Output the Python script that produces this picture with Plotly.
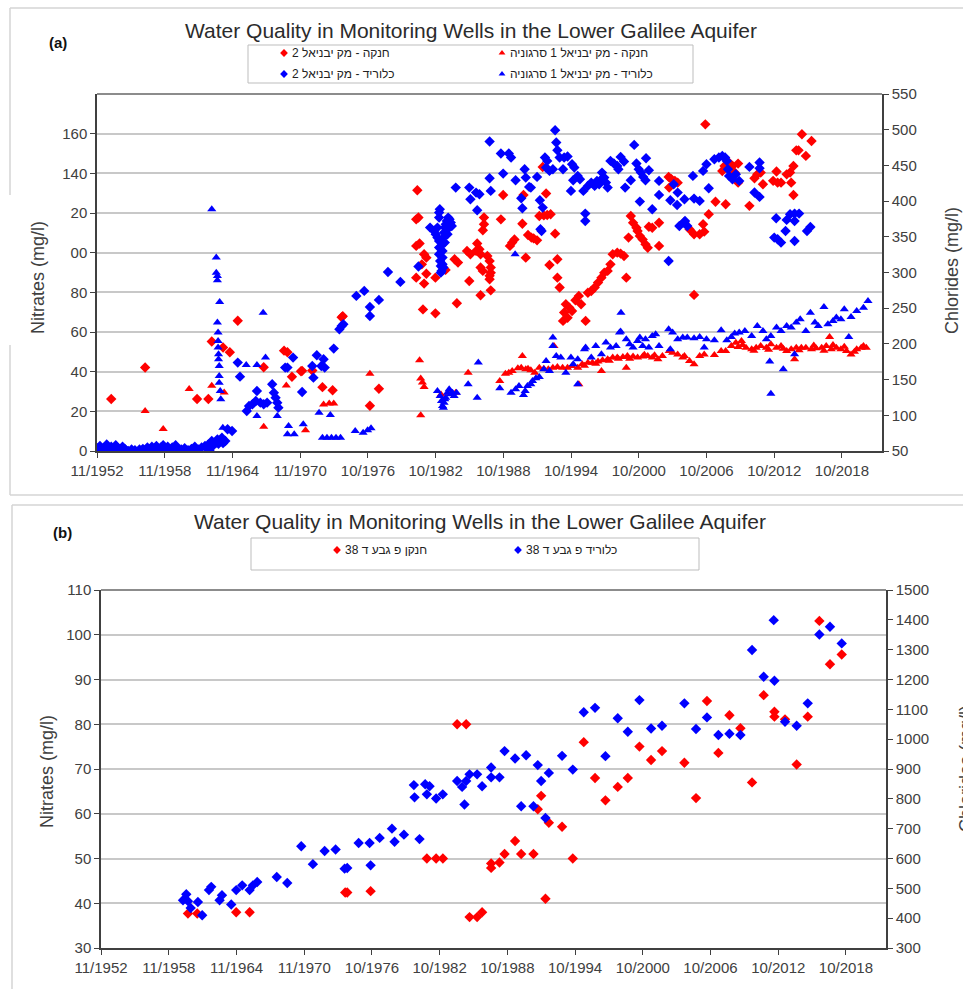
import plotly.graph_objects as go

W, H = 963, 989

# ---------------- Panel (a): Yavniel wells ----------------
# Nitrate, Yavniel 2 (red diamonds) - decimal year / mg/l
nit_w2_year = [1954.1, 1957.1, 1961.7, 1962.7, 1963.0, 1964.0, 1964.6, 1965.3, 1967.6, 1969.4,
               1969.7, 1970.1, 1970.9, 1971.0, 1971.9, 1972.8, 1973.7, 1974.5, 1974.6, 1977.0,
               1977.8, 1981.2, 1981.1, 1981.3, 1981.1, 1981.4, 1981.8, 1982.0, 1981.6, 1982.0,
               1982.8, 1981.1, 1981.8, 1981.7, 1982.8, 1983.7, 1984.5, 1984.8, 1984.7, 1985.8,
               1985.6, 1985.9, 1986.4, 1986.7, 1986.8, 1986.5, 1986.8, 1987.0, 1986.8, 1987.1,
               1987.1, 1987.0, 1987.6, 1987.4, 1987.6, 1987.7, 1987.7, 1987.6, 1987.7, 1988.6,
               1988.8, 1989.4, 1989.6, 1989.8, 1990.5, 1990.6, 1990.8, 1991.0, 1991.3, 1991.5,
               1991.8, 1992.0, 1992.4, 1992.7, 1993.0, 1992.6, 1992.3, 1993.4, 1992.9, 1993.6,
               1993.6, 1993.8, 1994.35, 1994.65, 1994.2, 1994.5, 1994.1, 1994.9, 1995.2, 1995.5,
               1995.7, 1996.1, 1996.3, 1996.6, 1996.9, 1997.2, 1997.5, 1997.75, 1998.05, 1998.3,
               1998.5, 1998.9, 1999.2, 1999.5, 1999.7, 1999.9, 2000.1, 2000.3, 2000.6, 2000.7,
               2000.9, 2001.15, 2001.4, 2001.6, 2001.7, 2002.0, 2002.6, 2002.6, 2003.45, 2003.7,
               2004.0, 2004.25, 2003.5, 2004.85, 2005.3, 2005.7, 2006.2, 2006.6, 2006.5, 2005.7,
               2007.0, 2007.6, 2008.5, 2006.7, 2008.2, 2008.4, 2008.8, 2009.1, 2009.6, 2009.3,
               2009.6, 2010.6, 2011.05, 2011.3, 2011.8, 2011.6, 2013.0, 2012.7, 2013.1, 2013.4,
               2013.9, 2014.2, 2014.5, 2014.3, 2014.5, 2014.75, 2014.95, 2015.25, 2016.1, 2015.6]
nit_w2 = [26.2, 42.1, 26.2, 26.2, 55.2, 52.2, 49.8, 65.7, 42.2, 50.6,
          49.8, 37.4, 40.2, 40.4, 40.6, 32.2, 30.6, 67.4, 68.0, 22.8,
          31.4, 131.5, 116.8, 117.7, 103.4, 104.6, 99.2, 97.5, 94.1, 89.4,
          87.4, 87.4, 84.4, 71.4, 69.4, 91.3, 96.7, 95.0, 74.5, 85.7,
          100.9, 99.2, 100.9, 101.7, 99.2, 104.6, 92.5, 90.8, 78.5, 117.7,
          114.3, 111.3, 88.3, 98.3, 95.8, 92.5, 89.9, 86.6, 81.0, 116.8,
          129.1, 103.4, 105.1, 106.7, 114.6, 129.1, 97.5, 108.9, 107.6, 107.2,
          106.2, 118.5, 118.8, 119.0, 119.4, 129.8, 143.2, 109.6, 93.8, 96.7,
          87.4, 82.4, 74.0, 72.3, 69.8, 67.2, 65.6, 70.6, 76.0, 78.2,
          74.0, 65.6, 79.8, 80.7, 82.4, 84.9, 87.4, 89.9, 90.8, 94.1,
          99.2, 100.0, 99.5, 98.3, 87.4, 107.6, 118.5, 115.1, 112.6, 110.9,
          108.4, 106.7, 104.2, 102.5, 113.1, 112.6, 115.1, 103.4, 138.2, 137.0,
          136.2, 135.3, 132.8, 115.5, 111.8, 109.3, 109.3, 110.6, 114.3, 78.7,
          119.4, 125.7, 124.4, 164.7, 141.2, 143.7, 145.4, 143.7, 144.9, 140.4,
          135.3, 123.6, 137.5, 139.5, 134.5, 140.4, 140.9, 136.2, 135.3, 135.3,
          139.5, 140.4, 143.7, 135.3, 129.1, 151.6, 151.6, 159.7, 156.3, 148.8]

# Nitrate, Yavniel 1 Sarguniya (red triangles)
nit_w1_year = [1957.1, 1958.7, 1961.0, 1963.0, 1964.1, 1967.6, 1969.6, 1971.3, 1972.9, 1973.4,
               1973.8, 1977.0, 1981.4, 1981.5, 1981.65, 1981.8, 1981.5, 1983.3, 1983.9, 1984.6,
               1985.7, 1988.5, 1989.0, 1989.3, 1989.6, 1990.1, 1990.4, 1990.8, 1991.0, 1991.25,
               1991.6, 1990.5, 1992.0, 1992.4, 1992.8, 1993.2, 1993.6, 1994.06, 1993.3, 1994.5,
               1994.9, 1995.4, 1995.8, 1996.0, 1996.3, 1996.7, 1997.0, 1997.2, 1997.6, 1998.05,
               1998.2, 1998.5, 1998.9, 1999.0, 1999.4, 1999.8, 2000.0, 2000.3, 2000.7, 2001.15,
               2001.3, 2001.6, 2002.0, 2002.2, 2002.5, 2002.9, 1995.5, 1997.5, 1999.7, 2003.5,
               2003.8, 2004.25, 2004.7, 2004.85, 2005.3, 2005.7, 2006.2, 2006.6, 2007.5, 2008.1,
               2008.5, 2009.0, 2009.4, 2009.6, 2009.9, 2010.0, 2010.3, 2010.8, 2011.0, 2011.2,
               2011.6, 2012.1, 2012.3, 2012.5, 2013.0, 2013.4, 2013.6, 2013.9, 2014.3, 2014.75,
               2015.0, 2015.2, 2015.6, 2016.1, 2016.3, 2016.5, 2017.0, 2017.2, 2017.4, 2017.85,
               2018.0, 2018.3, 2018.7, 2019.0, 2019.2, 2019.6, 2019.9, 2020.1, 2020.5, 2020.7,
               2020.95, 2014.6, 2017.7]
nit_w1 = [20.2, 11.1, 31.2, 32.9, 29.5, 12.2, 33.0, 10.4, 23.5, 23.9,
          23.9, 38.9, 45.7, 36.6, 34.5, 32.3, 18.0, 28.5, 29.4, 29.4,
          39.5, 35.3, 39.0, 39.5, 40.3, 41.7, 42.0, 41.2, 41.5, 40.7,
          39.5, 47.9, 42.0, 41.5, 41.2, 42.0, 42.3, 42.0, 53.0, 42.0,
          42.9, 42.0, 43.7, 43.0, 44.5, 44.5, 44.0, 45.1, 45.7, 46.2,
          45.5, 47.1, 47.1, 46.5, 47.4, 47.9, 46.5, 47.6, 47.1, 47.6,
          48.5, 47.9, 47.1, 48.3, 46.2, 47.9, 33.6, 40.3, 42.0, 50.4,
          49.6, 48.7, 47.1, 47.9, 45.4, 43.7, 47.9, 48.7, 48.4, 50.4,
          50.4, 53.0, 54.6, 52.5, 55.5, 53.4, 52.1, 51.3, 50.6, 52.1,
          53.0, 52.1, 51.0, 53.8, 52.1, 53.0, 51.6, 50.4, 51.3, 52.1,
          50.8, 52.1, 52.1, 51.3, 53.2, 51.8, 52.1, 50.5, 53.0, 51.3,
          53.4, 52.1, 51.3, 52.6, 50.4, 48.7, 50.0, 51.3, 52.1, 53.0,
          52.1, 46.2, 57.5]

# Chloride, Yavniel 2 (blue diamonds)
cl_w2_year = [1952.9, 1953.1, 1953.3, 1953.5, 1953.7, 1953.9, 1954.1, 1954.3, 1954.5, 1954.7,
              1954.9, 1955.1, 1955.3, 1955.6, 1955.9, 1956.2, 1956.6, 1956.9, 1957.1, 1957.3,
              1957.5, 1957.7, 1957.9, 1958.1, 1958.3, 1958.5, 1958.7, 1958.9, 1959.1, 1959.3,
              1959.5, 1959.8, 1960.0, 1960.3, 1960.6, 1960.9, 1961.2, 1961.5, 1961.8, 1962.1,
              1962.4, 1962.6, 1962.8, 1963.0, 1963.2, 1963.4, 1963.6, 1963.8, 1964.0, 1962.7,
              1963.0, 1963.5, 1963.9, 1964.2, 1964.4, 1964.8,
              1965.3, 1965.5, 1966.3, 1966.1, 1966.6, 1967.0, 1966.9, 1967.3, 1967.6, 1967.9,
              1968.35, 1968.5, 1968.65, 1968.8, 1968.9, 1969.5, 1969.7, 1970.2, 1971.0, 1971.9,
              1972.0, 1972.3, 1972.9, 1972.7, 1973.0, 1973.8, 1974.3, 1974.5, 1974.65, 1975.8,
              1976.5, 1977.0, 1977.0, 1977.8, 1978.6, 1979.7, 1981.3,
              1982.33, 1982.69, 1982.83, 1982.98, 1983.13, 1983.13, 1983.13, 1983.22, 1983.28, 1983.34,
              1983.43, 1983.43, 1983.43, 1983.43, 1983.51, 1983.57, 1983.63, 1983.72, 1983.81, 1983.93,
              1984.05, 1984.16, 1984.25, 1983.13, 1983.13, 1983.19, 1982.98, 1983.63, 1983.87, 1984.02,
              1983.51, 1983.28,
              1984.6, 1985.8, 1985.9, 1986.4, 1986.7, 1986.5, 1987.6, 1987.6, 1987.7, 1988.6,
              1988.8, 1989.3, 1989.5, 1989.9, 1990.4, 1990.5, 1990.7, 1990.8, 1991.1, 1991.25,
              1991.8, 1992.05, 1992.3, 1992.1, 1992.2, 1992.5, 1992.7, 1992.6, 1992.9, 1993.2,
              1993.4, 1993.5, 1993.6, 1993.8, 1994.2, 1994.5, 1994.1, 1994.8, 1994.9, 1995.1,
              1995.0, 1995.4, 1995.6, 1996.07, 1996.07, 1995.9, 1996.3, 1996.6, 1996.9, 1997.1,
              1997.3, 1997.5, 1997.75, 1997.9, 1998.05, 1997.55, 1998.3, 1998.6, 1998.9, 1999.2,
              1999.5, 1999.0, 1999.6, 2000.1, 2000.4, 2000.6, 2000.8, 2001.0, 2001.2, 2001.4,
              2001.45, 2001.7, 2000.9, 2002.0, 2002.6, 2002.6, 2003.6, 2003.45, 2003.9, 2004.25,
              2004.2, 2004.4, 2004.8, 2004.85, 2004.9, 2005.1, 2005.6, 2005.7, 2006.2, 2006.5,
              2006.8, 2007.0, 2007.5, 2007.9, 2008.2, 2008.45, 2008.6, 2008.7, 2008.8, 2009.1,
              2009.4, 2009.7, 2010.6, 2011.5, 2011.5, 2011.05, 2011.5, 2012.97, 2012.8, 2013.1,
              2013.4, 2013.9, 2014.2, 2014.6, 2015.0, 2014.6, 2013.8, 2014.6, 2015.7, 2016.0]
cl_w2 = [54, 57, 52, 55, 59, 53, 56, 52, 58, 54,
         51, 56, 53, 50, 52, 51, 52, 53, 51, 55,
         52, 56, 53, 57, 52, 55, 58, 53, 56, 51,
         55, 58, 53, 52, 54, 51, 53, 56, 52, 55,
         57, 53, 51, 56, 59, 62, 60, 64, 61, 59.3,
         64.0, 66.3, 68.7, 64.0, 80.4, 78.0,
         173.8, 154.1, 113.0, 106.0, 115.4, 134.1, 120.1, 117.7, 115.4, 117.7,
         143.4, 131.7, 124.7, 117.7, 110.7, 166.8, 166.8, 180.8, 132.7, 169.1,
         152.7, 184.0, 178.4, 169.1, 166.8, 193.4, 220.5, 225.1, 227.5, 267.2,
         274.2, 251.7, 239.1, 261.6, 300.8, 286.8, 308.3,
         362.9, 358.2, 353.6, 348.9, 344.2, 334.9, 325.5, 316.2, 309.2, 302.2,
         311.5, 320.9, 330.2, 339.5, 348.9, 355.9, 362.9, 367.6, 372.2, 376.9,
         374.6, 369.9, 365.2, 376.9, 383.9, 388.6, 362.9, 341.9, 353.6, 362.9,
         306.9, 299.8,
         418.9, 418.9, 402.6, 411.9, 409.6, 387.2, 483.4, 432.0, 414.3, 466.6,
         438.5, 466.6, 461.0, 429.2, 404.0, 390.0, 444.6, 432.9, 419.9, 418.9,
         433.9, 401.2, 390.9, 360.6, 358.2, 461.0, 456.3, 447.0, 442.3, 444.6,
         499.2, 482.0, 471.2, 461.0, 461.0, 462.4, 444.6, 414.3, 451.6, 447.0,
         429.2, 435.3, 430.6, 382.5, 372.2, 414.3, 421.3, 425.9, 421.3, 428.3,
         423.6, 430.6, 432.9, 425.9, 418.9, 439.9, 456.3, 452.6, 449.3, 461.9,
         455.4, 444.6, 418.9, 429.2, 478.7, 452.6, 444.6, 439.9, 433.9, 429.2,
         460.1, 443.2, 399.3, 388.6, 408.7, 428.3, 401.2, 316.2, 423.6, 411.9,
         394.6, 365.2, 369.9, 402.6, 372.2, 365.2, 435.3, 403.5, 400.3, 442.3,
         451.6, 418.0, 458.6, 461.0, 463.3, 461.0, 456.3, 444.6, 435.3, 430.6,
         437.6, 428.3, 447.9, 454.0, 446.0, 412.0, 405.9, 376.0, 348.9, 346.6,
         341.9, 373.7, 381.6, 382.5, 382.5, 372.2, 358.2, 344.2, 358.2, 363.8]

# Chloride, Yavniel 1 Sarguniya (blue triangles)
cl_w1_year = [1953.0, 1953.6, 1954.4, 1955.8, 1957.0, 1957.8, 1958.6, 1959.4, 1960.4, 1961.4,
              1962.6, 1963.0, 1963.4, 1963.4, 1963.5, 1963.5, 1963.7, 1963.5, 1963.56, 1963.56,
              1963.56, 1963.6, 1963.6, 1963.66, 1963.66, 1963.66, 1963.75, 1963.8, 1963.98,
              1966.05, 1967.0, 1967.55, 1967.76, 1967.0, 1968.8, 1969.8, 1969.7, 1970.3,
              1971.1, 1972.5, 1973.5, 1972.8, 1973.2, 1973.6, 1974.0, 1974.4, 1975.7, 1976.4,
              1976.8, 1977.1,
              1982.98, 1983.22, 1983.34, 1983.43, 1983.57, 1983.72, 1983.87, 1984.02, 1984.16, 1984.31,
              1984.46, 1984.67, 1983.51, 1983.63,
              1985.7, 1986.5, 1986.6, 1988.5, 1989.5, 1989.9, 1990.2, 1990.6, 1990.75, 1990.95,
              1991.25, 1991.4, 1991.7, 1992.0, 1989.86, 1992.4, 1992.6, 1992.9, 1993.2, 1993.2,
              1993.5, 1993.9, 1994.35, 1994.8, 1995.0, 1995.4, 1995.4, 1996.0, 1996.1, 1996.6,
              1997.0, 1997.5, 1997.9, 1998.3, 1998.8, 1999.1, 1999.2, 1999.7, 2000.0, 2000.3,
              2000.7, 2000.9, 2001.15, 2001.4, 2001.7, 2002.0, 2002.3, 2002.6, 1999.23, 2003.45,
              2003.8, 2004.25, 2004.7, 2003.6, 2005.1, 2005.7, 2006.2, 2006.8, 2007.5, 2008.1,
              2008.6, 2009.0, 2009.3, 2009.7, 2010.2, 2010.8, 2011.3, 2011.8, 2012.1, 2012.5,
              2013.0, 2013.4, 2013.9, 2014.3, 2014.75, 2015.1, 2015.6, 2016.0, 2016.4, 2016.7,
              2017.2, 2017.55, 2018.0, 2018.3, 2018.7, 2019.0, 2019.4, 2019.6, 2020.1, 2020.7,
              2021.1, 2012.4, 2013.6, 2012.5, 2014.6, 2006.6]
cl_w1 = [53, 51, 54, 51, 50, 52, 51, 53, 50, 51,
         50, 388.6, 320.9, 299.8, 295.2, 289.1, 258.7, 229.8, 215.8, 204.1,
         194.8, 185.4, 178.4, 169.1, 155.1, 145.7, 134.1, 122.4, 82.7,
         170.5, 170.5, 243.8, 180.8, 99.0, 99.0, 85.0, 73.4, 73.4,
         87.4, 103.7, 100.4, 68.7, 68.7, 68.7, 68.7, 68.7, 78.0, 75.7,
         79.0, 81.8,
         134.1, 127.1, 120.1, 113.0, 117.7, 124.7, 131.7, 136.4, 129.4, 131.7,
         127.1, 131.7, 110.7, 122.4,
         143.4, 124.7, 173.8, 137.8, 131.7, 136.4, 141.1, 128.5, 134.1, 141.1,
         143.4, 148.1, 151.8, 153.7, 325.5, 164.4, 176.1, 162.1, 208.8, 197.1,
         183.1, 180.8, 159.7, 180.8, 171.4, 178.4, 143.4, 192.4, 194.8, 180.8,
         197.1, 185.4, 201.8, 194.8, 197.1, 215.8, 217.2, 206.4, 199.4, 194.8,
         204.1, 208.8, 197.1, 206.4, 194.8, 211.1, 213.5, 197.1, 243.8, 220.5,
         215.8, 206.4, 208.8, 192.4, 208.8, 207.8, 209.7, 206.4, 205.0, 219.1,
         205.0, 209.7, 214.4, 215.8, 218.1, 211.1, 225.1, 218.1, 206.4, 211.1,
         222.8, 218.1, 225.1, 222.8, 229.8, 234.5, 218.1, 243.8, 229.8, 225.1,
         251.7, 227.5, 232.1, 236.8, 234.5, 248.5, 209.7, 237.7, 246.1, 250.8,
         260.2, 175.2, 164.4, 130.3, 185.4, 194.8]

# ---------------- Panel (b): Giva 38 well ----------------
nit_g38_year = [1960.54, 1961.36, 1964.81, 1966.0, 1974.46, 1974.64, 1976.71, 1981.69, 1982.51, 1983.11,
                1984.37, 1985.17, 1985.47, 1986.14, 1986.58, 1987.38, 1987.38, 1988.12, 1988.57, 1989.5,
                1990.04, 1991.13, 1991.51, 1991.81, 1992.19, 1992.49, 1993.66, 1994.61, 1995.58, 1996.58,
                1997.5, 1998.59, 1999.48, 2000.51, 2001.54, 2002.51, 2004.49, 2005.52, 2006.49, 2007.5,
                2008.48, 2009.45, 2010.48, 2011.51, 2012.46, 2012.46, 2013.4, 2014.43, 2015.41, 2016.44,
                2017.38, 2018.42]
nit_g38 = [37.7, 37.7, 38.0, 38.0, 42.4, 42.4, 42.7, 50.0, 50.0, 50.0,
           80.0, 80.0, 36.9, 36.9, 38.0, 48.9, 47.9, 49.1, 51.0, 53.9,
           51.0, 51.0, 61.0, 64.0, 41.0, 58.0, 57.1, 50.0, 76.0, 68.0,
           63.0, 66.0, 68.0, 75.0, 72.0, 74.0, 71.4, 63.5, 85.2, 73.6,
           82.0, 79.1, 67.0, 86.5, 82.8, 81.7, 81.1, 71.0, 81.7, 103.1,
           93.4, 95.6]

cl_g38_year = [1960.39, 1960.1, 1960.54, 1960.78, 1961.42, 1961.8, 1962.4, 1962.6, 1963.34, 1963.55,
               1964.37, 1964.81, 1965.34, 1966.0, 1966.29, 1966.67, 1968.4, 1969.33, 1970.57, 1971.6,
               1972.64, 1973.61, 1974.41, 1974.64, 1975.65, 1976.62, 1976.71, 1977.51, 1978.6, 1978.83,
               1979.66, 1981.04, 1980.54, 1980.6, 1981.54, 1981.93, 1981.69, 1982.51, 1983.1, 1984.37,
               1984.81, 1985.02, 1985.17, 1985.47, 1986.14, 1986.58, 1987.38, 1987.38, 1988.12, 1988.57,
               1989.5, 1990.48, 1991.51, 1991.81, 1992.49, 1990.04, 1991.13, 1992.19, 1993.66, 1994.61,
               1995.58, 1996.58, 1997.5, 1998.59, 1999.48, 2000.51, 2001.54, 2002.51, 2004.49, 2005.52,
               2006.49, 2007.5, 2008.48, 2009.45, 2010.48, 2011.51, 2012.4, 2012.46, 2013.4, 2014.43,
               2015.41, 2016.44, 2017.38, 2018.42]
cl_g38 = [480, 460, 457, 434, 454, 410, 494, 505, 460, 477,
          446, 494, 510, 494, 510, 521, 538, 518, 641, 581,
          625, 630, 566, 568, 652, 652, 577, 669, 700, 656,
          680, 665, 846, 805, 849, 842, 815, 801, 815, 860,
          840, 781, 860, 882, 882, 842, 905, 872, 872, 960,
          935, 946, 913, 860, 887, 775, 775, 736, 944, 898,
          1090, 1105, 943, 1070, 1025, 1131, 1036, 1045, 1120, 1034,
          1073, 1014, 1018, 1014, 1299, 1209, 1399, 1196, 1058, 1045,
          1120, 1351, 1377, 1321]

# ---------------- Axis ticks ----------------
x_tick_pos = [1952.84, 1958.84, 1964.84, 1970.83, 1976.83, 1982.82,
              1988.82, 1994.81, 2000.81, 2006.80, 2012.80, 2018.79]
x_tick_text = ["11/1952", "11/1958", "11/1964", "11/1970", "10/1976", "10/1982",
               "10/1988", "10/1994", "10/2000", "10/2006", "10/2012", "10/2018"]
x_range = [1952.84, 2022.34]

a_left_ticks = [0, 20, 40, 60, 80, 100, 120, 140, 160]
a_left_text = ["0", "20", "40", "60", "80", "00", "20", "140", "160"]
a_right_ticks = list(range(50, 551, 50))
b_left_ticks = list(range(30, 111, 10))
b_right_ticks = list(range(300, 1501, 100))

title_text = "Water Quality in Monitoring Wells in the Lower Galilee Aquifer"
leg_a = ["חנקה - מק יבניאל 2", "חנקה - מק יבניאל 1 סרגוניה",
         "כלוריד - מק יבניאל 2", "כלוריד - מק יבניאל 1 סרגוניה"]
leg_b = ["חנקן פ גבע ד 38", "כלוריד פ גבע ד 38"]

RED, BLUE = "#FF0000", "#0000FF"
TXT = "#404040"
FONT = "Liberation Sans, Arial, sans-serif"


def fx(p):
    return p / W


def fy(p):
    return 1 - p / H


fig = go.Figure()


def pts(x, y, color, symbol, xa, ya, size=7):
    fig.add_trace(go.Scatter(x=x, y=y, mode="markers", xaxis=xa, yaxis=ya,
                             marker=dict(color=color, symbol=symbol, size=size,
                                         line=dict(width=0)),
                             showlegend=False, hoverinfo="skip"))


# panel (a)
pts(cl_w2_year, cl_w2, BLUE, "diamond", "x", "y2", 8)
pts(cl_w1_year, cl_w1, BLUE, "triangle-up", "x", "y2", 8)
pts(nit_w2_year, nit_w2, RED, "diamond", "x", "y", 8)
pts(nit_w1_year, nit_w1, RED, "triangle-up", "x", "y", 8)
# panel (b)
pts(cl_g38_year, cl_g38, BLUE, "diamond", "x2", "y4", 8)
pts(nit_g38_year, nit_g38, RED, "diamond", "x2", "y3", 8)

# legend keys drawn on a full-page pixel overlay
key_x = [284, 502, 284, 502, 337, 518]
key_y = [53, 53, 74, 74, 550, 550]
key_c = [RED, RED, BLUE, BLUE, RED, BLUE]
key_s = ["diamond", "triangle-up", "diamond", "triangle-up", "diamond", "diamond"]
fig.add_trace(go.Scatter(x=key_x, y=key_y, mode="markers", xaxis="x3", yaxis="y5",
                         marker=dict(color=key_c, symbol=key_s, size=6, line=dict(width=0)),
                         showlegend=False, hoverinfo="skip"))

axis_common = dict(showline=True, linecolor="#404040", linewidth=1.5, ticks="outside",
                   ticklen=5, tickcolor="#404040", tickwidth=1, automargin=False,
                   tickfont=dict(family=FONT, size=15, color=TXT), zeroline=False)

ax_a = [fx(97), fx(882)]
ay_a = [fy(451), fy(94)]
ax_b = [fx(101), fx(886)]
ay_b = [fy(948), fy(590)]

fig.update_layout(
    width=W, height=H, autosize=False,
    margin=dict(l=0, r=0, t=0, b=0, pad=0),
    paper_bgcolor="white", plot_bgcolor="rgba(0,0,0,0)",
    xaxis=dict(domain=ax_a, anchor="y", range=x_range, tickmode="array",
               tickvals=x_tick_pos, ticktext=x_tick_text, showgrid=False, **axis_common),
    yaxis=dict(domain=ay_a, anchor="x", range=[0, 180], tickmode="array",
               tickvals=a_left_ticks, ticktext=a_left_text, showgrid=True,
               gridcolor="#C8C8C8", gridwidth=2, **axis_common),
    yaxis2=dict(overlaying="y", anchor="x", side="right", range=[50, 550],
                tickmode="array", tickvals=a_right_ticks, showgrid=False, **axis_common),
    xaxis2=dict(domain=ax_b, anchor="y3", range=x_range, tickmode="array",
                tickvals=x_tick_pos, ticktext=x_tick_text, showgrid=False, **axis_common),
    yaxis3=dict(domain=ay_b, anchor="x2", range=[30, 110], tickmode="array",
                tickvals=b_left_ticks, showgrid=True, gridcolor="#C8C8C8",
                gridwidth=2, **axis_common),
    yaxis4=dict(overlaying="y3", anchor="x2", side="right", range=[300, 1500],
                tickmode="array", tickvals=b_right_ticks, showgrid=False, **axis_common),
    xaxis3=dict(domain=[0, 1], anchor="y5", range=[0, W], visible=False,
                fixedrange=True, automargin=False),
    yaxis5=dict(domain=[0, 1], anchor="x3", range=[H, 0], visible=False,
                fixedrange=True, automargin=False),
)

shapes = []
# outer panel frames
frame = dict(type="line", xref="paper", yref="paper", line=dict(color="#D4D4D4", width=1.5))
shapes += [
    dict(frame, x0=fx(10), x1=fx(963), y0=fy(8), y1=fy(8)),
    dict(frame, x0=fx(10), x1=fx(963), y0=fy(495), y1=fy(495)),
    dict(frame, x0=fx(10), x1=fx(10), y0=fy(8), y1=fy(195)),
    dict(frame, x0=fx(10), x1=fx(10), y0=fy(345), y1=fy(495)),
    dict(frame, x0=fx(12), x1=fx(963), y0=fy(505), y1=fy(505)),
    dict(frame, x0=fx(12), x1=fx(12), y0=fy(505), y1=fy(989)),
]
# plot-area top borders
for xr, yr in (("x domain", "y domain"), ("x2 domain", "y3 domain")):
    shapes.append(dict(type="line", xref=xr, yref=yr, x0=0, x1=1, y0=1, y1=1,
                       line=dict(color="#8C8C8C", width=2)))
# legend boxes
box = dict(type="rect", xref="paper", yref="paper", line=dict(color="#BDBDBD", width=1))
shapes.append(dict(box, x0=fx(248), x1=fx(693), y0=fy(83), y1=fy(45)))
shapes.append(dict(box, x0=fx(251), x1=fx(699), y0=fy(570), y1=fy(538)))
fig.update_layout(shapes=shapes)

ann = []


def label(x, y, text, size, color=TXT, angle=0, xanchor="center", bold=False):
    ann.append(dict(x=fx(x), y=fy(y), xref="paper", yref="paper", text=f"<b>{text}</b>" if bold else text,
                    showarrow=False, xanchor=xanchor, yanchor="middle", textangle=angle,
                    font=dict(family=FONT, size=size, color=color)))


label(471, 31, title_text, 21, "#2b2b2b")
label(58, 43, "(a)", 15, "#111111", bold=True)
label(480, 521, title_text, 21, "#2b2b2b")
label(62, 532, "(b)", 15, "#111111", bold=True)

label(38, 278, "Nitrates (mg/l)", 18, angle=-90)
label(952, 271, "Chlorides (mg/l)", 18, angle=-90)
label(47, 772, "Nitrates (mg/l)", 18, angle=-90)
label(966, 768, "Chlorides (mg/l)", 18, angle=-90)

for (x, y), t in zip([(290, 53), (508, 53), (290, 74), (508, 74)], leg_a):
    label(x, y, t, 12, "#222222", xanchor="left")
for (x, y), t in zip([(343, 550), (524, 550)], leg_b):
    label(x, y, t, 12, "#222222", xanchor="left")

fig.update_layout(annotations=ann)

fig.write_html("out.html")
